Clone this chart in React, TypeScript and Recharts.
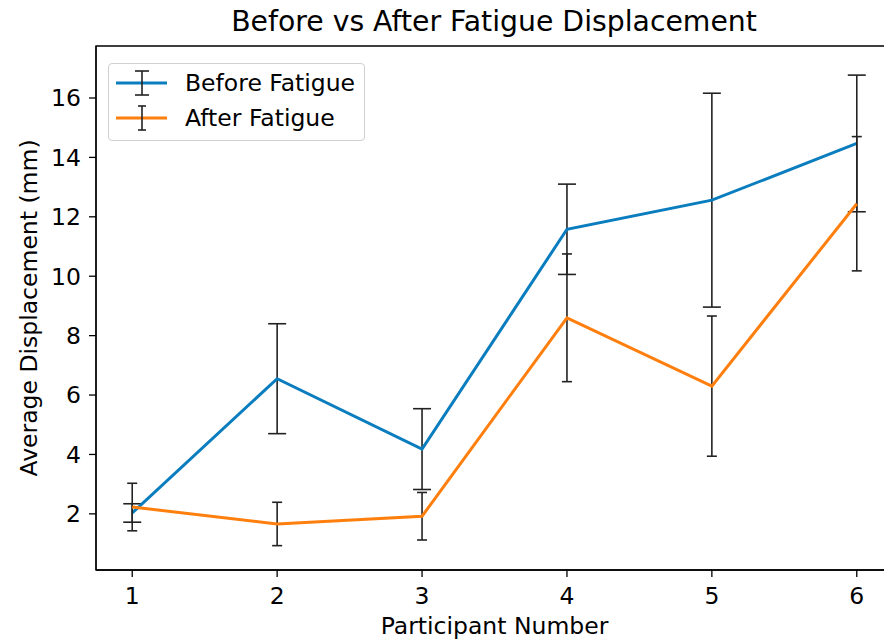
import {
  ErrorBar,
  Label,
  Line,
  LineChart,
  ReferenceArea,
  XAxis,
  YAxis,
} from "recharts";

const participants = [1, 2, 3, 4, 5, 6];
const beforeMean = [2.03, 6.55, 4.18, 11.58, 12.56, 14.47];
const beforeErr = [0.31, 1.85, 1.36, 1.52, 3.6, 2.3];
const afterMean = [2.23, 1.66, 1.92, 8.6, 6.3, 12.44];
const afterErr = [0.8, 0.73, 0.8, 2.15, 2.36, 2.26];
const yTicks = [2, 4, 6, 8, 10, 12, 14, 16];

const data = participants.map((p, i) => ({
  participant: p,
  before: beforeMean[i],
  beforeErr: beforeErr[i],
  after: afterMean[i],
  afterErr: afterErr[i],
}));

const FONT = "DejaVu Sans, sans-serif";
const FS = 23.5;
const BLUE = "#0a7dbe";
const ORANGE = "#ff7f0e";
const X_DOMAIN = [0.75, 6.25];
const Y_DOMAIN = [0.11, 17.75];

function LegendBox() {
  const rows = [
    { label: "Before Fatigue", color: BLUE, cap: 7 },
    { label: "After Fatigue", color: ORANGE, cap: 4 },
  ];
  return (
    <div
      style={{
        position: "absolute",
        left: 108,
        top: 63,
        width: 257,
        height: 78,
        border: "1px solid #d0d0d0",
        borderRadius: 4,
        background: "rgba(255,255,255,0.8)",
        fontFamily: FONT,
        fontSize: FS,
        color: "#000",
        boxSizing: "border-box",
      }}
    >
      {rows.map((r, i) => (
        <div
          key={r.label}
          style={{ position: "absolute", left: 0, top: 6 + i * 35, height: 26, display: "flex", alignItems: "center" }}
        >
          <svg width={64} height={26} style={{ marginLeft: 6 }}>
            <line x1={1} x2={52} y1={13} y2={13} stroke={r.color} strokeWidth={3} />
            <line x1={27} x2={27} y1={1} y2={25} stroke="#222" strokeWidth={1.6} />
            <line x1={27 - r.cap} x2={27 + r.cap} y1={1} y2={1} stroke="#222" strokeWidth={1.6} />
            <line x1={27 - r.cap} x2={27 + r.cap} y1={25} y2={25} stroke="#222" strokeWidth={1.6} />
          </svg>
          <span style={{ marginLeft: 6, lineHeight: "26px" }}>{r.label}</span>
        </div>
      ))}
    </div>
  );
}

export default function App() {
  return (
    <div
      style={{
        position: "absolute",
        left: 0,
        top: 0,
        width: 884,
        height: 640,
        overflow: "hidden",
        background: "#fff",
      }}
    >
      <div
        style={{
          position: "absolute",
          left: 0,
          width: 988,
          top: 5,
          textAlign: "center",
          fontFamily: FONT,
          fontSize: 28.3,
          color: "#000",
        }}
      >
        Before vs After Fatigue Displacement
      </div>
      <LineChart
        width={900}
        height={640}
        data={data}
        margin={{ top: 46, right: 7, left: 0, bottom: 0 }}
      >
        <ReferenceArea
          x1={X_DOMAIN[0]}
          x2={X_DOMAIN[1]}
          y1={Y_DOMAIN[0]}
          y2={Y_DOMAIN[1]}
          fill="none"
          stroke="#000"
          strokeWidth={1.3}
        />
        <XAxis
          dataKey="participant"
          type="number"
          domain={X_DOMAIN}
          ticks={participants}
          allowDataOverflow
          height={70}
          tickSize={7}
          tickMargin={10}
          axisLine={{ stroke: "#000", strokeWidth: 1.3 }}
          tickLine={{ stroke: "#000", strokeWidth: 1.3 }}
          tick={{ fill: "#000", fontSize: FS, fontFamily: FONT }}
        >
          <Label
            value="Participant Number"
            position="insideBottom"
            offset={6}
            style={{ fill: "#000", fontSize: FS, fontFamily: FONT }}
          />
        </XAxis>
        <YAxis
          type="number"
          domain={Y_DOMAIN}
          ticks={yTicks}
          allowDataOverflow
          width={96}
          tickSize={7}
          tickMargin={8}
          axisLine={{ stroke: "#000", strokeWidth: 1.3 }}
          tickLine={{ stroke: "#000", strokeWidth: 1.3 }}
          tick={{ fill: "#000", fontSize: FS, fontFamily: FONT }}
        >
          <Label
            value="Average Displacement (mm)"
            angle={-90}
            position="center"
            dx={-19}
            style={{ fill: "#000", fontSize: FS, fontFamily: FONT, textAnchor: "middle" }}
          />
        </YAxis>
        <Line
          dataKey="before"
          name="Before Fatigue"
          stroke={BLUE}
          strokeWidth={3}
          dot={false}
          isAnimationActive={false}
        >
          <ErrorBar dataKey="beforeErr" direction="y" width={9} stroke="#222" strokeWidth={1.6} isAnimationActive={false} />
        </Line>
        <Line
          dataKey="after"
          name="After Fatigue"
          stroke={ORANGE}
          strokeWidth={3}
          dot={false}
          isAnimationActive={false}
        >
          <ErrorBar dataKey="afterErr" direction="y" width={5} stroke="#222" strokeWidth={1.6} isAnimationActive={false} />
        </Line>
      </LineChart>
      <LegendBox />
    </div>
  );
}
